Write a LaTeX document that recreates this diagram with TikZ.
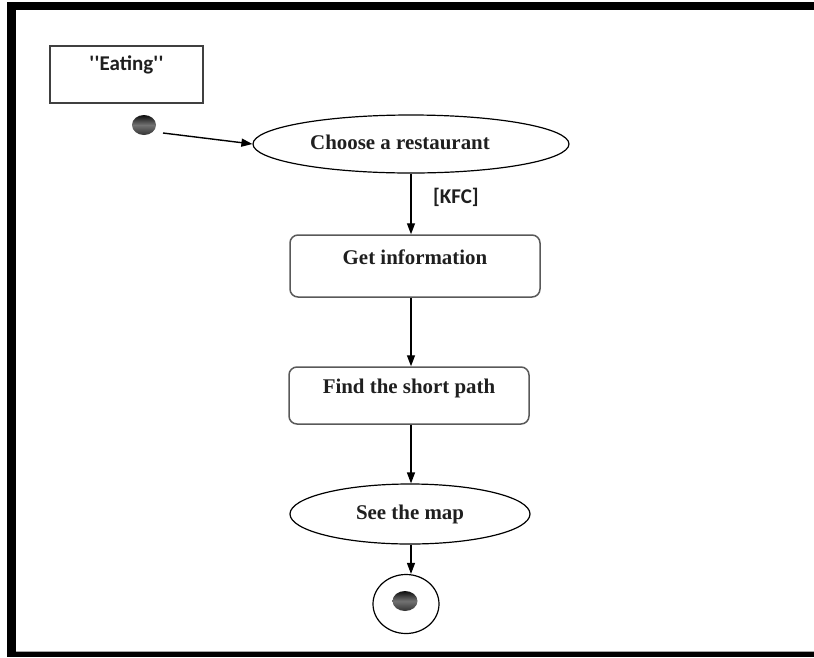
\documentclass[tikz,border=0pt]{standalone}
\usepackage{fontspec}
\setmainfont{Liberation Serif}
\newfontfamily\calib{Carlito}
\usetikzlibrary{arrows.meta,shapes.geometric}

\newcommand{\sq}{\symbol{39}\kern0.5pt\symbol{39}}

\begin{document}
\begin{tikzpicture}[x=1pt,y=-1pt,
  lbl/.style={font=\fontsize{20.9}{24}\selectfont\bfseries, text=black!88},
  sanslbl/.style={font=\calib\fontsize{21}{24}\selectfont\bfseries, text=black!88},
  notebox/.style={draw=black!75, line width=1.3pt, minimum width=153pt, minimum height=57pt, inner sep=0pt},
  actbox/.style={draw=black!65, line width=1.5pt, rounded corners=8pt, inner sep=0pt},
  actoval/.style={draw=black, line width=1.2pt, ellipse, inner sep=0pt},
  blob/.style={ellipse, inner sep=0pt, top color=black!95, bottom color=black!80, middle color=black!55},
  flow/.style={draw=black, line width=1.4pt, -{Triangle[length=11pt,width=8pt]}},
]
\useasboundingbox (0,0) rectangle (814,657);

% outer frame (top, left and bottom bands)
\fill[black] (7,2) rectangle (814,10);
\fill[black] (7,2) rectangle (16,657);
\fill[black] (7,652) rectangle (814,657);
\draw[black!35, line width=0.8pt] (16,651) -- (814,651);

% title note
\node[notebox, label={[sanslbl, yshift=9.5pt]center:\sq Eating\sq}] (title) at (126.5,74.5) {};

% initial node
\node[blob, minimum width=24pt, minimum height=20pt] (start) at (144,125) {};
\coordinate (starttail) at (163,133);

% activities
\node[actoval, minimum width=316pt, minimum height=58pt,
      label={[lbl, xshift=-11pt, yshift=1.5pt]center:Choose a restaurant}] (choose) at (411,144) {};
\node[actbox, minimum width=250pt, minimum height=62pt,
      label={[lbl, yshift=9pt]center:Get information}] (getinfo) at (415,266) {};
\node[actbox, minimum width=240pt, minimum height=57pt,
      label={[lbl, yshift=7pt]center:Find the short path}] (find) at (409,395.5) {};
\node[actoval, lbl, minimum width=240pt, minimum height=60pt] (see) at (410,514) {See the map};

% final node
\node[draw=black, line width=1.2pt, ellipse, minimum width=66pt, minimum height=59pt, inner sep=0pt] (final) at (406,604) {};
\node[blob, minimum width=25pt, minimum height=20pt] (finaldot) at (405,601) {};

% transitions
\draw[flow] (starttail) -- (choose.west);
\draw[flow] (choose.south) -- node[sanslbl, anchor=west, xshift=18pt, yshift=7pt] {[KFC]} (choose.south |- getinfo.north);
\draw[flow] (choose.south |- getinfo.south) -- (choose.south |- find.north);
\draw[flow] (choose.south |- find.south) -- (choose.south |- see.north);
\draw[flow] (choose.south |- see.south) -- (choose.south |- final.north);
\end{tikzpicture}
\end{document}
